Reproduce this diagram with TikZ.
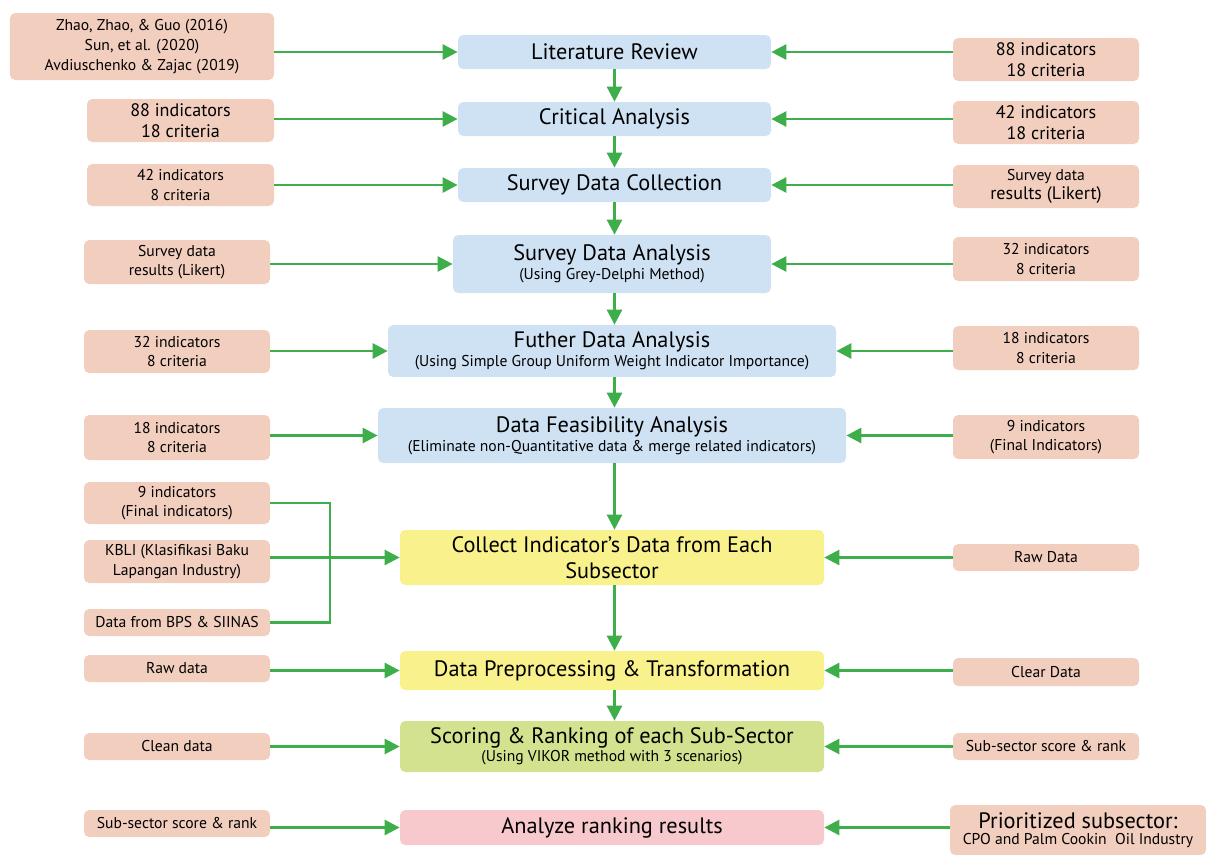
\documentclass[tikz,border=0pt]{standalone}
\usepackage{fontspec}
\setmainfont{PT Sans}
\usetikzlibrary{arrows.meta}
\usepackage{xcolor}
\definecolor{srcfill}{HTML}{F2CEBE}
\definecolor{bluefill}{HTML}{CFE2F4}
\definecolor{yelfill}{HTML}{F8F18C}
\definecolor{grnfill}{HTML}{D2E28E}
\definecolor{pinkfill}{HTML}{F8C9CC}
\definecolor{arrgreen}{HTML}{3DAE49}
\newcommand{\ttl}{\fontsize{12.7}{14.5}\selectfont}
\newcommand{\sub}{\fontsize{8.9}{10}\selectfont}
\newcommand{\side}{\fontsize{8.9}{11.2}\selectfont}
\newcommand{\bside}{\fontsize{10.3}{12}\selectfont}

\begin{document}
\begin{tikzpicture}[proc/.style={rectangle, rounded corners=3pt, fill=#1, align=center, inner sep=1pt},
  src/.style={rectangle, rounded corners=3pt, fill=srcfill, align=center, inner sep=1pt, font=\side},
  flow/.style={draw=arrgreen, line width=1.5pt, -{Triangle[length=0.3cm,width=0.3cm]}},
  link/.style={draw=arrgreen, line width=1.5pt}]
  \useasboundingbox (0,0) rectangle (24.12,-17.08);
  % main column
  \node[proc=bluefill, minimum width=6.26cm, minimum height=0.68cm] (lit) at (12.29,-1.04) {\ttl Literature Review};
  \node[proc=bluefill, minimum width=6.26cm, minimum height=0.68cm] (crit) at (12.29,-2.38) {\ttl Critical Analysis};
  \node[proc=bluefill, minimum width=6.26cm, minimum height=0.68cm] (coll) at (12.29,-3.70) {\ttl Survey Data Collection};
  \node[proc=bluefill, minimum width=6.36cm, minimum height=1.16cm] (sda) at (12.24,-5.28) {\ttl Survey Data Analysis\\[-1pt]\sub (Using Grey-Delphi Method)};
  \node[proc=bluefill, minimum width=8.96cm, minimum height=1.04cm] (fda) at (12.24,-7.02) {\ttl Futher Data Analysis\\[-1pt]\sub (Using Simple Group Uniform Weight Indicator Importance)};
  \node[proc=bluefill, minimum width=9.36cm, minimum height=1.10cm] (dfa) at (12.24,-8.71) {\ttl Data Feasibility Analysis\\[-1pt]\sub (Eliminate non-Quantitative data \& merge related indicators)};
  \node[proc=yelfill, minimum width=8.48cm, minimum height=1.10cm] (cid) at (12.24,-11.15) {\ttl Collect Indicator’s Data from Each\\[2.5pt]\ttl Subsector};
  \node[proc=yelfill, minimum width=8.48cm, minimum height=0.78cm] (dpt) at (12.24,-13.41) {\ttl Data Preprocessing \& Transformation};
  \node[proc=grnfill, minimum width=8.48cm, minimum height=1.02cm] (scr) at (12.24,-14.93) {\ttl Scoring \& Ranking of each Sub-Sector\\[-2pt]\sub (Using VIKOR method with 3 scenarios)};
  \node[proc=pinkfill, minimum width=8.48cm, minimum height=0.70cm] (ana) at (12.24,-16.55) {\ttl Analyze ranking results};

  % left inputs
  \node[src, minimum width=5.28cm, minimum height=1.34cm] (l1) at (2.84,-0.93) {Zhao, Zhao, \& Guo (2016)\\Sun, et al. (2020)\\Avdiuschenko \& Zajac (2019)};
  \node[src, minimum width=3.74cm, minimum height=0.86cm, font=\bside] (l2) at (3.61,-2.41) {88 indicators\\18 criteria};
  \node[src, minimum width=3.74cm, minimum height=0.84cm] (l3) at (3.61,-3.70) {42 indicators\\8 criteria};
  \node[src, minimum width=3.72cm, minimum height=0.88cm] (l4) at (3.54,-5.24) {Survey data\\results (Likert)};
  \node[src, minimum width=3.72cm, minimum height=0.86cm] (l5) at (3.54,-7.03) {32 indicators\\8 criteria};
  \node[src, minimum width=3.72cm, minimum height=0.90cm] (l6) at (3.54,-8.75) {18 indicators\\8 criteria};
  \node[src, minimum width=3.72cm, minimum height=0.84cm] (l7a) at (3.54,-10.06) {9 indicators\\(Final indicators)};
  \node[src, minimum width=3.72cm, minimum height=0.86cm] (l7b) at (3.54,-11.23) {KBLI (Klasifikasi Baku\\Lapangan Industry)};
  \node[src, minimum width=3.72cm, minimum height=0.54cm] (l7c) at (3.54,-12.45) {Data from BPS \& SIINAS};
  \node[src, minimum width=3.72cm, minimum height=0.54cm] (l8) at (3.54,-13.37) {Raw data};
  \node[src, minimum width=3.72cm, minimum height=0.54cm] (l9) at (3.54,-14.93) {Clean data};
  \node[src, minimum width=3.72cm, minimum height=0.54cm] (l10) at (3.54,-16.47) {Sub-sector score \& rank};

  % right inputs
  \node[src, minimum width=3.72cm, minimum height=0.86cm, font=\bside] (r1) at (20.92,-1.19) {88 indicators\\18 criteria};
  \node[src, minimum width=3.72cm, minimum height=0.86cm, font=\bside] (r2) at (20.92,-2.45) {42 indicators\\18 criteria};
  \node[src, minimum width=3.72cm, minimum height=0.86cm] (r3) at (20.92,-3.73) {Survey data\\{\bside results (Likert)}};
  \node[src, minimum width=3.72cm, minimum height=0.88cm] (r4) at (20.92,-5.18) {32 indicators\\8 criteria};
  \node[src, minimum width=3.72cm, minimum height=0.88cm] (r5) at (20.92,-6.96) {18 indicators\\8 criteria};
  \node[src, minimum width=3.72cm, minimum height=0.88cm] (r6) at (20.92,-8.74) {9 indicators\\(Final Indicators)};
  \node[src, minimum width=3.72cm, minimum height=0.54cm] (r7) at (20.92,-11.15) {Raw Data};
  \node[src, minimum width=3.72cm, minimum height=0.56cm] (r8) at (20.92,-13.44) {Clear Data};
  \node[src, minimum width=3.72cm, minimum height=0.54cm] (r9) at (20.92,-14.93) {Sub-sector score \& rank};
  \node[src, minimum width=5.12cm, minimum height=1.00cm] (r10) at (21.56,-16.60) {\ttl Prioritized subsector:\\[-2pt]\sub CPO and Palm Cookin\ \ Oil Industry};

  % flow down the column
  \foreach \a/\b in {lit/crit, crit/coll, coll/sda, sda/fda, fda/dfa, dfa/cid, cid/dpt, dpt/scr}
    \draw[flow] (\a.south -| lit.south) -- (\b.north -| lit.north);

  % left and right arrows
  \foreach \s/\t in {l1/lit, l2/crit, l3/coll, l4/sda, l5/fda, l6/dfa, l7b/cid, l8/dpt, l9/scr, l10/ana}
    \draw[flow] (\s.east |- \t.west) -- (\t.west);
  \foreach \s/\t in {r1/lit, r2/crit, r3/coll, r4/sda, r5/fda, r6/dfa, r7/cid, r8/dpt, r9/scr, r10/ana}
    \draw[flow] (\s.west |- \t.east) -- (\t.east);

  % bracket joining the three data sources
  \coordinate (jn) at (6.60,0);
  \draw[link] (l7a.east) -- (l7a.east -| jn) -- (l7c.east -| jn) -- (l7c.east);
\end{tikzpicture}
\end{document}
